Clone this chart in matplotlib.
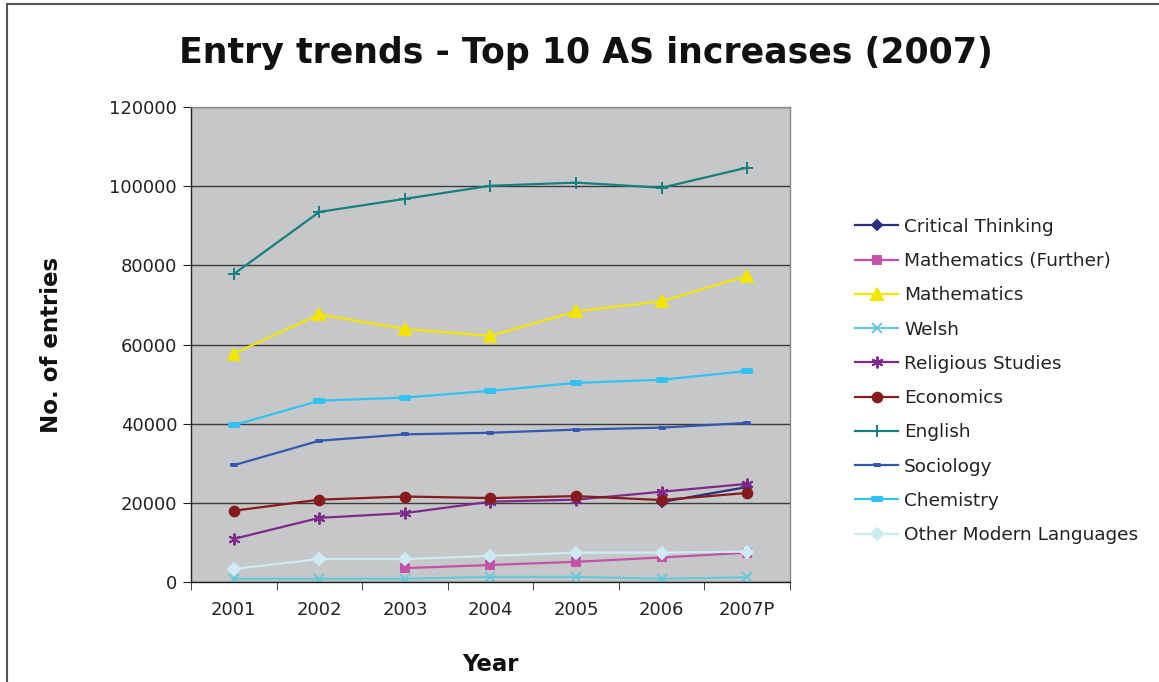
import matplotlib
matplotlib.use("Agg")
import matplotlib.pyplot as plt
import numpy as np
from matplotlib.lines import Line2D

nan = np.nan

years = ["2001", "2002", "2003", "2004", "2005", "2006", "2007P"]

critical_thinking = [nan, nan, nan, nan, nan, 20200, 24000]
maths_further = [nan, nan, 3500, 4300, 5100, 6200, 7400]
mathematics = [57700, 67600, 63900, 62200, 68400, 70900, 77400]
welsh = [800, 800, 800, 1300, 1300, 800, 1200]
religious_studies = [10900, 16200, 17400, 20300, 20800, 22800, 24800]
economics = [18000, 20800, 21600, 21200, 21700, 20700, 22500]
english = [77800, 93500, 96800, 100100, 100900, 99600, 104700]
sociology = [29500, 35700, 37300, 37700, 38500, 39000, 40200]
chemistry = [39600, 45800, 46600, 48300, 50300, 51100, 53300]
other_modern_languages = [3300, 5800, 5800, 6600, 7400, 7400, 7700]

# horizontal dash used by Excel for the Sociology / Chemistry series
dash = [(-1, -0.45), (1, -0.45), (1, 0.45), (-1, 0.45), (-1, -0.45)]

series = [
    ("Critical Thinking", critical_thinking, "#28307E", "D", 5.5),
    ("Mathematics (Further)", maths_further, "#C452A8", "s", 6),
    ("Mathematics", mathematics, "#F2E500", "^", 8),
    ("Welsh", welsh, "#68C8DA", "x", 7),
    ("Religious Studies", religious_studies, "#7E2A8C", (6, 2, 0), 8.5),
    ("Economics", economics, "#861A1C", "o", 7),
    ("English", english, "#168080", "+", 9),
    ("Sociology", sociology, "#3457B2", dash, 4),
    ("Chemistry", chemistry, "#30C2F2", dash, 6.5),
    ("Other Modern Languages", other_modern_languages, "#CDEBF3", "D", 6.5),
]

plt.rcParams["font.family"] = "DejaVu Sans"

fig = plt.figure(figsize=(11.59, 6.82), dpi=100)
ax = fig.add_axes([191 / 1159, 1 - 582 / 682, 599 / 1159, 475 / 682])
ax.set_facecolor("#C6C7C9")

x = np.arange(len(years))
for name, values, color, marker, size in series:
    ax.plot(x, values, color=color, lw=1.6, marker=marker, markersize=size,
            markeredgecolor=color, markerfacecolor=color, markeredgewidth=1.4,
            label=name)

ax.set_xlim(-0.5, len(years) - 0.5)
ax.set_ylim(0, 120000)
ax.set_yticks(np.arange(0, 120001, 20000))
ax.yaxis.grid(True, color="#3C3C3C", lw=1.0)
ax.set_axisbelow(True)

ax.set_xticks(x)
ax.set_xticklabels(years)
ax.set_xticks(np.arange(-0.5, len(years)), minor=True)
ax.tick_params(axis="x", which="major", length=0, pad=14, labelsize=13,
               colors="#222222")
ax.tick_params(axis="x", which="minor", length=6, color="#222222")
ax.tick_params(axis="y", length=6, pad=4, labelsize=13, color="#222222",
               labelcolor="#222222")

for side in ["top", "right"]:
    ax.spines[side].set_color("#8A8A8A")
    ax.spines[side].set_linewidth(1.0)
for side in ["left", "bottom"]:
    ax.spines[side].set_color("#222222")
    ax.spines[side].set_linewidth(1.0)

ax.set_xlabel("Year", fontsize=16.5, fontweight="bold", labelpad=24,
              color="#111111")
ax.set_ylabel("No. of entries", fontsize=16.5, fontweight="bold", labelpad=33,
              color="#111111")

fig.text(586 / 1159, 1 - 53 / 682, "Entry trends - Top 10 AS increases (2007)",
         ha="center", va="center", fontsize=25, fontweight="bold",
         color="#111111")

ax.legend(loc="center left", bbox_to_anchor=(855 / 1159, 1 - 381 / 682),
          bbox_transform=fig.transFigure, frameon=False, fontsize=13.3,
          handlelength=2.35, handletextpad=0.3, labelspacing=0.88,
          borderpad=0, borderaxespad=0, labelcolor="#222222")

# outer chart border
fig.add_artist(Line2D([7 / 1159, 7 / 1159], [0, 1 - 4 / 682],
                      transform=fig.transFigure, color="#555555", lw=1.5))
fig.add_artist(Line2D([7 / 1159, 1], [1 - 4 / 682, 1 - 4 / 682],
                      transform=fig.transFigure, color="#555555", lw=1.5))

fig.savefig("out.png", dpi=100)
